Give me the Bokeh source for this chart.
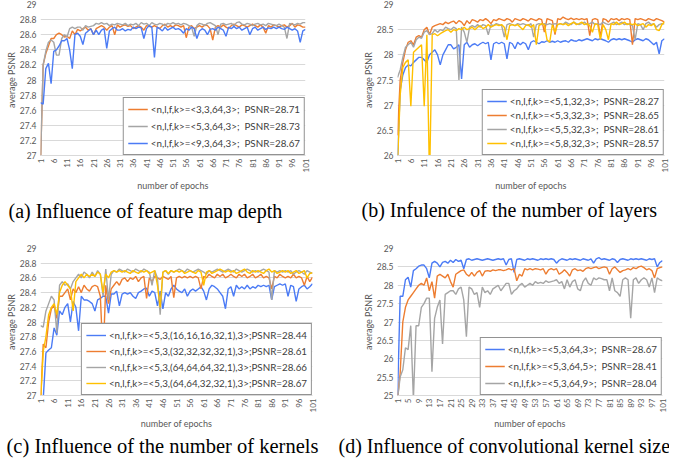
import math
from bokeh.plotting import figure
from bokeh.layouts import column, row
from bokeh.models import FixedTicker, Legend, LegendItem, Range1d
from bokeh.embed import file_html
from bokeh.resources import INLINE

epochs = list(range(1, 102))

# ---------------- (a) feature map depth ----------------
a_names = ["<n,l,f,k>=<3,3,64,3>;  PSNR=28.71",
           "<n,l,f,k>=<5,3,64,3>;  PSNR=28.73",
           "<n,l,f,k>=<9,3,64,3>;  PSNR=28.67"]
a_orange = [26.9, 28.2, 28.35, 28.45, 28.55, 28.55, 28.6, 28.62, 28.6, 28.57,
            28.58, 28.55, 28.65, 28.6, 28.67, 28.65, 28.68, 28.7, 28.66, 28.68,
            28.6, 28.68, 28.7, 28.72, 28.7, 28.66, 28.7, 28.72, 28.6, 28.73,
            28.7, 28.72, 28.73, 28.71, 28.72, 28.68, 28.7, 28.72, 28.7, 28.66,
            28.72, 28.71, 28.7, 28.72, 28.7, 28.68, 28.72, 28.74, 28.7, 28.72,
            28.7, 28.73, 28.72, 28.7, 28.72, 28.56, 28.7, 28.72, 28.68, 28.7,
            28.72, 28.7, 28.73, 28.72, 28.68, 28.53, 28.7, 28.72, 28.7, 28.73,
            28.7, 28.68, 28.72, 28.74, 28.72, 28.7, 28.73, 28.72, 28.7, 28.72,
            28.74, 28.72, 28.7, 28.73, 28.7, 28.62, 28.72, 28.7, 28.73, 28.72,
            28.7, 28.72, 28.73, 28.7, 28.72, 28.75, 28.7, 28.73, 28.72, 28.7,
            28.7]
a_gray = [26.9, 28.2, 28.38, 28.5, 28.53, 28.5, 28.33, 28.33, 28.55, 28.6,
          28.57, 28.68, 28.7, 28.68, 28.7, 28.7, 28.66, 28.72, 28.7, 28.71,
          28.72, 28.75, 28.74, 28.76, 28.74, 28.75, 28.72, 28.74, 28.73, 28.75,
          28.74, 28.73, 28.75, 28.72, 28.74, 28.73, 28.75, 28.72, 28.76, 28.74,
          28.75, 28.72, 28.76, 28.74, 28.73, 28.75, 28.74, 28.72, 28.75, 28.74,
          28.76, 28.74, 28.75, 28.73, 28.75, 28.74, 28.72, 28.7, 28.58, 28.72,
          28.75, 28.74, 28.72, 28.75, 28.76, 28.74, 28.72, 28.6, 28.74, 28.75,
          28.73, 28.74, 28.75, 28.72, 28.76, 28.77, 28.74, 28.73, 28.75, 28.74,
          28.72, 28.74, 28.75, 28.73, 28.74, 28.72, 28.75, 28.74, 28.73, 28.72,
          28.74, 28.72, 28.7, 28.55, 28.75, 28.74, 28.73, 28.75, 28.74, 28.76,
          28.76]
a_blue = [27.7, 27.68, 28.15, 28.22, 27.95, 28.38, 28.4, 28.45, 28.52, 28.52,
          28.55, 28.4, 28.15, 28.6, 28.62, 28.58, 28.47, 28.62, 28.65, 28.68,
          28.6, 28.66, 28.6, 28.66, 28.68, 28.42, 28.65, 28.68, 28.7, 28.66,
          28.66, 28.68, 28.65, 28.67, 28.66, 28.7, 28.68, 28.7, 28.69, 28.55,
          28.68, 28.72, 28.7, 28.3, 28.7, 28.68, 28.65, 28.7, 28.66, 28.68,
          28.7, 28.67, 28.68, 28.66, 28.62, 28.68, 28.66, 28.7, 28.68, 28.55,
          28.65, 28.68, 28.66, 28.6, 28.67, 28.68, 28.66, 28.7, 28.68, 28.66,
          28.58, 28.7, 28.68, 28.71, 28.68, 28.7, 28.66, 28.68, 28.7, 28.6,
          28.68, 28.7, 28.66, 28.68, 28.7, 28.67, 28.69, 28.68, 28.7, 28.68,
          28.7, 28.68, 28.67, 28.7, 28.68, 28.66, 28.68, 28.65, 28.5, 28.65,
          28.67]

# ---------------- (b) number of layers ----------------
b_names = ["<n,l,f,k>=<5,1,32,3>;  PSNR=28.27",
           "<n,l,f,k>=<5,3,32,3>;  PSNR=28.65",
           "<n,l,f,k>=<5,5,32,3>;  PSNR=28.61",
           "<n,l,f,k>=<5,8,32,3>;  PSNR=28.57"]
b_blue = [25.9, 27.3, 27.6, 27.75, 27.8, 27.78, 27.85, 27.9, 27.95, 27.95,
          27.9, 27.85, 28.0, 28.05, 28.1, 28.0, 27.8, 28.0, 28.1, 28.2,
          28.2, 28.12, 28.15, 28.2, 27.52, 28.2, 28.25, 28.15, 28.2, 28.22,
          28.18, 28.22, 28.25, 28.22, 28.25, 27.9, 28.22, 28.25, 28.22, 28.25,
          28.22, 27.92, 28.25, 28.22, 28.12, 28.25, 28.2, 28.25, 28.22, 28.1,
          28.25, 28.28, 28.25, 28.22, 28.26, 28.25, 28.28, 28.25, 28.27, 28.25,
          28.28, 28.25, 28.27, 28.28, 28.25, 28.3, 28.28, 28.27, 28.3, 28.28,
          28.3, 28.32, 28.3, 28.28, 28.32, 28.3, 28.32, 28.3, 28.28, 28.25,
          28.3, 28.32, 28.3, 28.32, 28.3, 28.32, 28.3, 28.28, 28.25, 28.3,
          28.32, 28.3, 28.28, 28.32, 28.3, 28.25, 28.2, 28.25, 28.02, 28.28,
          28.32]
b_orange = [26.4, 27.5, 27.85, 28.1, 28.25, 28.28, 28.2, 28.35, 28.38, 28.35,
            28.5, 28.55, 28.4, 28.55, 28.58, 28.6, 28.62, 28.6, 28.65, 28.62,
            28.65, 28.67, 28.62, 28.68, 28.65, 28.58, 28.68, 28.62, 28.7, 28.68,
            28.65, 28.7, 28.68, 28.72, 28.68, 28.62, 28.7, 28.68, 28.72, 28.7,
            28.68, 28.72, 28.7, 28.65, 28.72, 28.7, 28.68, 28.72, 28.7, 28.67,
            28.72, 28.7, 28.68, 28.72, 28.7, 28.45, 28.72, 28.7, 28.68, 28.4,
            28.72, 28.7, 28.75, 28.72, 28.7, 28.73, 28.7, 28.72, 28.7, 28.72,
            28.7, 28.72, 28.38, 28.7, 28.72, 28.7, 28.35, 28.72, 28.7, 28.65,
            28.72, 28.7, 28.72, 28.68, 28.72, 28.7, 28.72, 28.7, 28.2, 28.72,
            28.7, 28.72, 28.7, 28.68, 28.72, 28.7, 28.68, 28.72, 28.7, 28.68,
            28.65]
b_gray = [27.55, 27.7, 27.95, 28.15, 28.2, 28.25, 28.15, 28.3, 28.35, 28.33,
          28.45, 28.48, 28.4, 28.42, 28.5, 28.45, 28.5, 28.48, 28.55, 28.52,
          28.5, 28.55, 28.52, 27.5, 28.55, 28.45, 28.25, 28.55, 28.58, 28.55,
          28.6, 28.55, 28.6, 28.58, 28.4, 28.6, 28.58, 28.62, 28.6, 28.58,
          28.35, 28.6, 28.62, 28.6, 28.58, 28.62, 28.6, 28.62, 28.6, 28.58,
          28.62, 28.35, 28.6, 28.62, 28.6, 28.62, 28.6, 28.62, 28.6, 28.62,
          28.6, 28.62, 28.6, 28.65, 28.62, 28.6, 28.65, 28.62, 28.6, 28.62,
          28.65, 28.6, 28.62, 28.65, 28.6, 28.62, 28.6, 28.65, 28.62, 28.6,
          28.62, 28.65, 28.6, 28.62, 28.65, 28.6, 28.62, 28.6, 28.58, 28.3,
          28.62, 28.6, 28.5, 28.62, 28.65, 28.6, 28.62, 28.55, 28.6, 28.62,
          28.61]
b_yellow = [25.8, 27.2, 27.75, 27.85, 27.9, 26.98, 28.05, 28.1, 28.15, 28.2,
            26.98, 28.4, 25.5, 28.4, 28.42, 28.38, 28.42, 28.45, 28.48, 28.5,
            28.45, 28.5, 28.48, 28.52, 28.5, 28.55, 28.5, 28.52, 28.55, 28.5,
            28.55, 28.58, 28.52, 28.55, 28.6, 28.55, 28.58, 28.6, 28.58, 28.6,
            28.55, 28.3, 28.58, 28.6, 28.58, 28.6, 28.55, 28.5, 28.58, 28.6,
            28.55, 28.6, 28.2, 28.58, 28.62, 28.6, 28.3, 28.25, 28.6, 28.45,
            28.6, 28.62, 28.6, 28.62, 28.58, 28.62, 28.65, 28.6, 28.62, 28.65,
            28.6, 28.62, 28.58, 28.45, 28.62, 28.6, 28.3, 28.6, 28.5, 28.3,
            28.62, 28.6, 28.65, 28.6, 28.62, 28.65, 28.6, 28.62, 28.6, 28.62,
            28.58, 28.6, 28.62, 28.55, 28.6, 28.58, 28.62, 28.5, 28.48, 28.6,
            28.65]

# ---------------- (c) number of kernels ----------------
c_names = ["<n,l,f,k>=<5,3,(16,16,16,32,1),3>;PSNR=28.44",
           "<n,l,f,k>=<5,3,(32,32,32,32,1),3>;PSNR=28.61",
           "<n,l,f,k>=<5,3,(64,64,64,32,1),3>;PSNR=28.66",
           "<n,l,f,k>=<5,3,(64,64,32,32,1),3>;PSNR=28.67"]
c_blue = [26.9, 26.95, 27.58, 27.62, 27.65, 27.92, 27.82, 28.15, 28.1, 28.2,
          28.25, 28.0, 28.28, 28.2, 27.88, 28.35, 28.3, 28.3, 28.28, 28.25,
          28.15, 28.3, 28.32, 28.35, 28.35, 28.12, 28.38, 28.38, 28.42, 28.22,
          28.38, 28.4, 28.38, 28.4, 28.35, 28.32, 28.4, 28.42, 28.45, 28.46,
          28.35, 28.42, 28.4, 28.22, 28.42, 28.18, 28.4, 28.35, 28.45, 28.5,
          28.45, 28.42, 28.4, 28.45, 28.35, 28.42, 28.45, 28.42, 28.45, 28.48,
          28.42, 28.3, 28.45, 28.5, 28.48, 28.45, 28.4, 28.35, 28.18, 28.45,
          28.48, 28.35, 28.5, 28.45, 28.48, 28.45, 28.5, 28.45, 28.48, 28.46,
          28.5, 28.48, 28.5, 28.48, 28.5, 28.3, 28.48, 28.5, 28.52, 28.5,
          28.52, 28.35, 28.5, 28.48, 28.28, 28.45, 28.48, 28.5, 28.45, 28.48,
          28.52]
c_orange = [26.9, 27.7, 27.65, 28.0, 28.18, 28.22, 28.05, 28.35, 28.35, 28.4,
            28.45, 28.3, 28.45, 28.4, 28.48, 28.4, 28.5, 28.45, 28.42, 28.48,
            28.5, 28.48, 28.35, 27.5, 28.5, 28.25, 28.45, 28.5, 28.55, 28.5,
            28.58, 28.6, 28.55, 28.6, 28.58, 28.62, 28.55, 28.6, 28.62, 28.32,
            28.6, 28.55, 28.62, 28.6, 28.58, 28.62, 28.6, 28.58, 28.62, 28.33,
            28.6, 28.62, 28.6, 28.62, 28.6, 28.62, 28.6, 28.62, 28.6, 28.45,
            28.62, 28.6, 28.65, 28.62, 28.6, 28.65, 28.62, 28.65, 28.6, 28.62,
            28.65, 28.62, 28.6, 28.65, 28.62, 28.65, 28.6, 28.62, 28.65, 28.6,
            28.62, 28.65, 28.6, 28.62, 28.6, 28.45, 28.62, 28.6, 28.65, 28.62,
            28.6, 28.62, 28.6, 28.65, 28.6, 28.62, 28.6, 28.5, 28.62, 28.55,
            28.61]
c_gray = [27.95, 27.93, 28.15, 28.25, 28.35, 28.3, 27.85, 28.5, 28.55, 28.5,
          28.52, 28.45, 28.55, 28.6, 28.65, 28.6, 28.68, 28.65, 28.6, 28.68,
          28.62, 28.7, 28.65, 28.35, 28.72, 28.3, 28.65, 28.7, 28.68, 28.72,
          28.7, 28.68, 28.72, 28.7, 28.68, 28.72, 28.7, 28.68, 28.72, 28.7,
          28.68, 28.5, 28.7, 28.6, 28.1, 28.68, 28.7, 28.65, 28.7, 28.68,
          28.7, 28.72, 28.7, 28.68, 28.72, 28.7, 28.68, 28.7, 28.72, 28.7,
          28.68, 28.65, 28.7, 28.68, 28.7, 28.72, 28.7, 28.68, 28.7, 28.72,
          28.7, 28.68, 28.72, 28.7, 28.68, 28.7, 28.72, 28.7, 28.68, 28.7,
          28.68, 28.7, 28.72, 28.7, 28.68, 28.3, 28.7, 28.68, 28.7, 28.68,
          28.7, 28.68, 28.7, 28.65, 28.68, 28.7, 28.68, 28.65, 28.7, 28.68,
          28.66]
c_yellow = [26.9, 27.6, 27.8, 28.1, 28.2, 28.25, 28.1, 28.4, 28.5, 28.55,
            28.5, 28.45, 28.15, 28.55, 28.6, 28.65, 28.6, 28.65, 28.62, 28.65,
            28.62, 28.68, 28.65, 28.4, 28.65, 28.6, 28.68, 28.7, 28.68, 28.7,
            28.68, 28.7, 28.68, 28.66, 28.7, 28.68, 28.66, 28.7, 28.68, 28.7,
            28.66, 28.68, 28.7, 28.5, 28.2, 28.68, 28.7, 28.66, 28.7, 28.68,
            28.7, 28.68, 28.7, 28.66, 28.68, 28.7, 28.68, 28.66, 28.7, 28.68,
            28.5, 28.68, 28.7, 28.66, 28.68, 28.7, 28.72, 28.7, 28.68, 28.7,
            28.68, 28.7, 28.66, 28.68, 28.7, 28.72, 28.68, 28.66, 28.7, 28.68,
            28.7, 28.68, 28.66, 28.7, 28.72, 28.68, 28.7, 28.66, 28.68, 28.7,
            28.68, 28.7, 28.66, 28.68, 28.7, 28.66, 28.68, 28.7, 28.6, 28.66,
            28.67]

# ---------------- (d) convolutional kernel size ----------------
d_names = ["<n,l,f,k>=<5,3,64,3>;  PSNR=28.67",
           "<n,l,f,k>=<5,3,64,5>;  PSNR=28.41",
           "<n,l,f,k>=<5,3,64,9>;  PSNR=28.04"]
d_blue = [24.9, 27.7, 27.7, 28.15, 28.22, 27.95, 28.4, 28.45, 28.52, 28.55,
          28.55, 28.45, 28.2, 28.6, 28.65, 28.6, 28.5, 28.62, 28.65, 28.6,
          28.68, 28.62, 28.7, 28.65, 28.68, 28.45, 28.7, 28.72, 28.68, 28.7,
          28.72, 28.7, 28.68, 28.7, 28.72, 28.7, 28.68, 28.7, 28.72, 28.7,
          28.72, 28.55, 28.7, 28.72, 28.35, 28.7, 28.72, 28.7, 28.68, 28.72,
          28.7, 28.72, 28.7, 28.68, 28.72, 28.7, 28.72, 28.7, 28.72, 28.7,
          28.6, 28.68, 28.72, 28.7, 28.68, 28.72, 28.7, 28.72, 28.7, 28.68,
          28.72, 28.7, 28.68, 28.72, 28.6, 28.72, 28.75, 28.7, 28.72, 28.7,
          28.68, 28.72, 28.7, 28.62, 28.7, 28.72, 28.7, 28.68, 28.72, 28.7,
          28.72, 28.7, 28.72, 28.7, 28.68, 28.72, 28.7, 28.72, 28.5, 28.62,
          28.67]
d_orange = [24.9, 25.6, 27.0, 27.4, 27.6, 27.7, 27.8, 27.9, 28.0, 28.05,
            28.0, 28.2, 27.85, 28.1, 27.65, 28.25, 28.3, 28.25, 28.2, 28.3,
            28.1, 27.95, 28.3, 28.35, 28.4, 28.42, 28.3, 28.25, 28.35, 28.25,
            28.35, 28.4, 28.25, 28.38, 28.4, 28.38, 28.42, 28.4, 28.42, 28.42,
            28.4, 28.42, 28.45, 28.42, 28.45, 28.12, 28.3, 28.25, 28.45, 28.42,
            28.45, 28.42, 28.45, 28.44, 28.42, 28.45, 28.3, 28.42, 28.45, 28.42,
            28.45, 28.3, 28.35, 28.42, 28.35, 28.25, 28.42, 28.45, 28.4, 28.42,
            28.38, 28.45, 28.48, 28.45, 28.48, 28.5, 28.45, 28.48, 28.5, 28.48,
            28.3, 28.45, 28.5, 28.42, 28.35, 28.4, 28.42, 28.45, 28.42, 28.48,
            28.45, 28.5, 28.52, 28.48, 28.42, 28.45, 28.4, 28.2, 28.45, 28.48,
            28.5]
d_gray = [24.9, 25.5, 25.7, 26.3, 26.25, 26.9, 24.9, 26.9, 26.9, 27.4,
          27.5, 27.65, 27.65, 25.65, 27.1, 27.4, 27.6, 26.4, 27.75, 27.8,
          27.85, 27.85, 27.75, 27.9, 27.95, 27.6, 26.6, 27.95, 27.9, 27.75,
          27.8, 27.4, 27.95, 27.8, 27.85, 27.75, 27.9, 27.95, 28.0, 27.85,
          27.95, 28.05, 28.05, 27.75, 27.85, 27.9, 28.0, 28.05, 27.95, 28.0,
          28.05, 28.0, 28.1, 28.05, 28.08, 28.05, 28.12, 28.08, 28.1, 28.12,
          28.15, 28.05, 28.1, 27.9, 28.15, 27.95, 28.1, 28.15, 27.9, 27.85,
          28.1, 28.2, 28.05, 28.0, 28.2, 28.15, 28.2, 28.18, 28.15, 28.15,
          27.85, 28.2, 27.85, 27.8, 27.7, 28.15, 28.2, 28.15, 27.1, 28.15,
          28.2, 28.05, 28.15, 28.2, 28.15, 27.95, 28.2, 27.8, 28.2, 28.15,
          28.12]

# ticks
x_ticks_5 = [1, 6, 11, 16, 21, 26, 31, 36, 41, 46, 51, 56, 61, 66, 71, 76, 81, 86, 91, 96, 101]
x_ticks_4 = [1, 5, 9, 13, 17, 21, 25, 29, 33, 37, 41, 45, 49, 53, 57, 61, 65, 69, 73, 77, 81, 85, 89, 93, 97, 101]
y_ticks_a = [27, 27.2, 27.4, 27.6, 27.8, 28, 28.2, 28.4, 28.6, 28.8, 29]
y_labels_a = ["27", "27.2", "27.4", "27.6", "27.8", "28", "28.2", "28.4", "28.6", "28.8", "29"]
y_ticks_b = [26, 26.5, 27, 27.5, 28, 28.5, 29]
y_labels_b = ["26", "26.5", "27", "27.5", "28", "28.5", "29"]
y_ticks_d = [25, 25.5, 26, 26.5, 27, 27.5, 28, 28.5, 29]
y_labels_d = ["25", "25.5", "26", "26.5", "27", "27.5", "28", "28.5", "29"]

captions = ["(a) Influence of feature map depth",
            "(b) Infulence of the number of layers",
            "(c) Influence of the number of kernels",
            "(d) Influence of convolutional kernel size"]

BLUE = "#4B7BF5"
ORANGE = "#ED7D31"
GRAY = "#A5A5A5"
YELLOW = "#FFC000"
TXT = "#595959"
FONT = "Lato"


def make(series, names, colors, yr, yticks, ylabels, xticks, caption,
         w, h, bl, br, bt, bb, cap_off, cap_standoff, cap_size, leg_spacing, xlab_standoff):
    p = figure(width=w, height=h, output_backend="svg", toolbar_location=None,
               x_range=Range1d(1, 101), y_range=Range1d(yr[0], yr[1]),
               min_border_left=bl, min_border_right=br, min_border_top=bt,
               min_border_bottom=bb, title_location="below")
    p.outline_line_color = None
    p.background_fill_color = "white"
    p.border_fill_color = "white"
    items = []
    for ys, name, c in zip(series, names, colors):
        r = p.line(epochs, ys, line_color=c, line_width=1.4)
        items.append(LegendItem(label=name, renderers=[r]))
    leg = Legend(items=items, location="bottom_right", margin=0, padding=4,
                 spacing=leg_spacing, glyph_width=20, glyph_height=14, label_standoff=3,
                 label_text_font=FONT, label_text_font_size="9.8px",
                 label_text_color="#404040", label_height=14,
                 border_line_color="#262626", border_line_width=1.3,
                 background_fill_color="white", background_fill_alpha=1.0)
    p.add_layout(leg)

    p.xgrid.visible = False
    p.ygrid.grid_line_color = "#D9D9D9"
    p.ygrid.grid_line_width = 1

    xa = p.xaxis[0]
    xa.ticker = FixedTicker(ticks=xticks)
    xa.major_label_orientation = math.pi / 2
    xa.major_tick_line_color = None
    xa.major_tick_out = 0
    xa.major_tick_in = 0
    xa.minor_tick_line_color = None
    xa.minor_tick_out = 0
    xa.axis_line_color = "#D9D9D9"
    xa.major_label_text_font = FONT
    xa.major_label_text_font_size = "8px"
    xa.major_label_text_color = TXT
    xa.major_label_standoff = 3
    xa.axis_label = "number of epochs"
    xa.axis_label_text_font = FONT
    xa.axis_label_text_font_style = "normal"
    xa.axis_label_text_font_size = "9px"
    xa.axis_label_text_color = TXT
    xa.axis_label_standoff = xlab_standoff

    ya = p.yaxis[0]
    ya.ticker = FixedTicker(ticks=yticks)
    ya.major_label_overrides = {t: l for t, l in zip(yticks, ylabels)}
    ya.major_tick_line_color = None
    ya.major_tick_out = 0
    ya.major_tick_in = 0
    ya.minor_tick_line_color = None
    ya.minor_tick_out = 0
    ya.axis_line_color = None
    ya.major_label_text_font = FONT
    ya.major_label_text_font_size = "8.5px"
    ya.major_label_text_color = TXT
    ya.major_label_standoff = 4
    ya.axis_label = "average PSNR"
    ya.axis_label_text_font = FONT
    ya.axis_label_text_font_style = "normal"
    ya.axis_label_text_font_size = "9px"
    ya.axis_label_text_color = TXT
    ya.axis_label_standoff = 0

    p.title.text = caption
    p.title.text_font = "Liberation Serif"
    p.title.text_font_style = "normal"
    p.title.text_font_size = cap_size
    p.title.text_color = "black"
    p.title.align = "left"
    p.title.offset = cap_off
    p.title.standoff = cap_standoff
    return p


pa = make([a_orange, a_gray, a_blue], a_names, [ORANGE, GRAY, BLUE], (27, 29),
          y_ticks_a, y_labels_a, x_ticks_5, captions[0],
          334, 232, 40, 29, 4, 77, -32, 7, "20px", 3, 5)
pb = make([b_blue, b_orange, b_gray, b_yellow], b_names, [BLUE, ORANGE, GRAY, YELLOW], (26, 29),
          y_ticks_b, y_labels_b, x_ticks_5, captions[1],
          335, 232, 63, 5, 4, 74, -36, 4, "20px", 0, 5)
pc = make([c_blue, c_orange, c_gray, c_yellow], c_names, [BLUE, ORANGE, GRAY, YELLOW], (27, 29),
          y_ticks_a, y_labels_a, x_ticks_5, captions[2],
          334, 226, 40, 22, 16, 63, -34, 0, "20.5px", 2, 3)
pd_ = make([d_blue, d_orange, d_gray], d_names, [BLUE, ORANGE, GRAY], (25, 29),
           y_ticks_d, y_labels_d, x_ticks_4, captions[3],
           335, 226, 63, 7, 16, 63, -59, 0, "20px", 3, 3)

layout = column(row(pa, pb), row(pc, pd_))
open("out.html", "w").write(file_html(layout, INLINE))
